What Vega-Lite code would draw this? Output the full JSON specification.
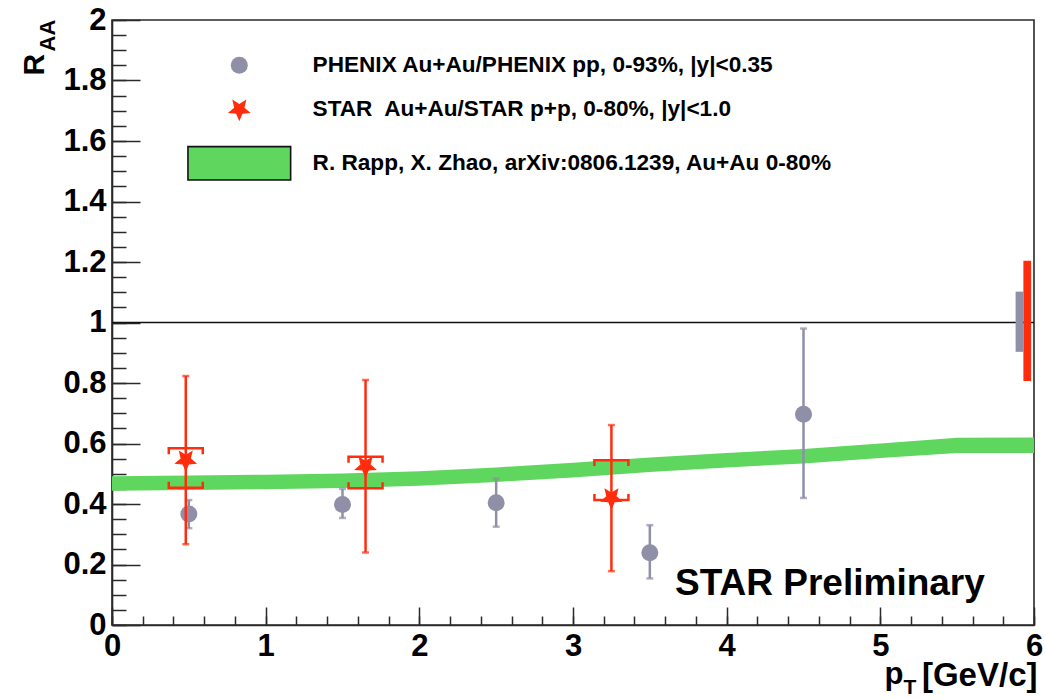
{
  "$schema": "https://vega.github.io/schema/vega-lite/v6.json",
  "width": 922,
  "height": 605,
  "autosize": {"type": "none"},
  "padding": {"left": 112, "top": 20, "right": 11, "bottom": 74},
  "background": "white",
  "config": {
    "font": "Liberation Sans",
    "view": {"stroke": "#2a2a2a", "strokeWidth": 1.6},
    "axis": {
      "grid": false,
      "domainColor": "#2a2a2a",
      "domainWidth": 1.6,
      "tickColor": "#2a2a2a",
      "tickWidth": 1.5,
      "labelColor": "#000000",
      "labelFont": "Liberation Sans",
      "labelFontWeight": "bold",
      "labelFontSize": 31,
      "labelOverlap": false,
      "labelFlush": false,
      "titleColor": "#000000",
      "titleFont": "Liberation Sans",
      "titleFontWeight": "bold"
    }
  },
  "datasets": {
    "phenix": [
      {"series": "PHENIX Au+Au/PHENIX pp, 0-93%, |y|<0.35", "pt": 0.5, "val": 0.367, "lo": 0.32, "hi": 0.413},
      {"series": "PHENIX Au+Au/PHENIX pp, 0-93%, |y|<0.35", "pt": 1.5, "val": 0.398, "lo": 0.354, "hi": 0.45},
      {"series": "PHENIX Au+Au/PHENIX pp, 0-93%, |y|<0.35", "pt": 2.5, "val": 0.404, "lo": 0.325, "hi": 0.484},
      {"series": "PHENIX Au+Au/PHENIX pp, 0-93%, |y|<0.35", "pt": 3.5, "val": 0.239, "lo": 0.154, "hi": 0.33},
      {"series": "PHENIX Au+Au/PHENIX pp, 0-93%, |y|<0.35", "pt": 4.5, "val": 0.697, "lo": 0.42, "hi": 0.98}
    ],
    "star": [
      {"series": "STAR\u00a0 Au+Au/STAR p+p, 0-80%, |y|<1.0", "pt": 0.48, "val": 0.545, "lo": 0.267, "hi": 0.823, "syslo": 0.454, "syshi": 0.584},
      {"series": "STAR\u00a0 Au+Au/STAR p+p, 0-80%, |y|<1.0", "pt": 1.65, "val": 0.525, "lo": 0.24, "hi": 0.81, "syslo": 0.452, "syshi": 0.556},
      {"series": "STAR\u00a0 Au+Au/STAR p+p, 0-80%, |y|<1.0", "pt": 3.25, "val": 0.42, "lo": 0.178, "hi": 0.661, "syslo": 0.413, "syshi": 0.545}
    ],
    "rapp": [
      {"pt": 0, "lo": 0.444, "hi": 0.492},
      {"pt": 0.5, "lo": 0.446, "hi": 0.494},
      {"pt": 1, "lo": 0.449, "hi": 0.497},
      {"pt": 1.5, "lo": 0.453, "hi": 0.501},
      {"pt": 2, "lo": 0.46, "hi": 0.508},
      {"pt": 2.5, "lo": 0.473, "hi": 0.521},
      {"pt": 3, "lo": 0.488, "hi": 0.536},
      {"pt": 3.5, "lo": 0.506, "hi": 0.554},
      {"pt": 4, "lo": 0.521, "hi": 0.569},
      {"pt": 4.5, "lo": 0.534, "hi": 0.582},
      {"pt": 5, "lo": 0.552, "hi": 0.6},
      {"pt": 5.5, "lo": 0.569, "hi": 0.619},
      {"pt": 6, "lo": 0.569, "hi": 0.62}
    ],
    "phenixNorm": [{"pt": 5.905, "lo": 0.903, "hi": 1.102}],
    "starNorm": [{"pt": 5.956, "lo": 0.807, "hi": 1.204}],
    "unity": [{"ref": 1}],
    "note": [{"label": "STAR Preliminary"}]
  },
  "resolve": {"axis": {"x": "independent", "y": "independent"}},
  "layer": [
    {
      "data": {"name": "rapp"},
      "mark": {"type": "area", "color": "#5fd75f", "interpolate": "linear", "opacity": 1},
      "encoding": {
        "x": {
          "field": "pt", "type": "quantitative",
          "scale": {"domain": [0, 6], "nice": false, "zero": false},
          "axis": {
            "orient": "bottom",
            "values": [0, 1, 2, 3, 4, 5, 6],
            "format": "~g",
            "tickSize": -18,
            "labelPadding": 24,
            "labelBaseline": "top",
            "labelAlign": "center",
            "title": "p",
            "titleFontSize": 31,
            "titleX": 772,
            "titleY": 58,
            "titleAlign": "left",
            "titleBaseline": "alphabetic",
            "titleAngle": 0
          }
        },
        "y": {
          "field": "lo", "type": "quantitative",
          "scale": {"domain": [0, 2], "nice": false, "zero": false},
          "axis": {
            "orient": "left",
            "values": [0, 0.2, 0.4, 0.6, 0.8, 1, 1.2, 1.4, 1.6, 1.8, 2],
            "format": "~g",
            "tickSize": -28,
            "labelPadding": 34,
            "labelAlign": "right",
            "labelBaseline": "middle",
            "title": "R",
            "titleFontSize": 30,
            "titleAngle": 270,
            "titleX": -69,
            "titleY": 55,
            "titleAlign": "left",
            "titleBaseline": "alphabetic"
          }
        },
        "y2": {"field": "hi"}
      }
    },
    {
      "data": {"name": "phenix"},
      "mark": {"type": "errorbar", "color": "#8f8fa8", "thickness": 2.5, "ticks": {"size": 7}},
      "encoding": {
        "x": {"field": "pt", "type": "quantitative", "scale": {"domain": [0, 6], "nice": false, "zero": false}, "axis": null},
        "y": {"field": "lo", "type": "quantitative", "scale": {"domain": [0, 2], "nice": false, "zero": false}, "axis": null},
        "y2": {"field": "hi"}
      }
    },
    {
      "data": {"name": "phenix"},
      "mark": {"type": "point", "filled": true, "size": 289, "opacity": 1, "strokeWidth": 0},
      "encoding": {
        "x": {
          "field": "pt", "type": "quantitative",
          "scale": {"domain": [0, 6], "nice": false, "zero": false},
          "axis": {
            "orient": "bottom",
            "values": [0, 0.2, 0.4, 0.6, 0.8, 1, 1.2, 1.4, 1.6, 1.8, 2, 2.2, 2.4, 2.6, 2.8, 3, 3.2, 3.4, 3.6, 3.8, 4, 4.2, 4.4, 4.6, 4.8, 5, 5.2, 5.4, 5.6, 5.8, 6],
            "labels": false,
            "domain": false,
            "tickSize": -9,
            "title": "T",
            "titleFontSize": 21,
            "titleX": 791,
            "titleY": 68,
            "titleAlign": "left",
            "titleBaseline": "alphabetic",
            "titleAngle": 0
          }
        },
        "y": {
          "field": "val", "type": "quantitative",
          "scale": {"domain": [0, 2], "nice": false, "zero": false},
          "axis": {
            "orient": "left",
            "values": [0, 0.05, 0.1, 0.15, 0.2, 0.25, 0.3, 0.35, 0.4, 0.45, 0.5, 0.55, 0.6, 0.65, 0.7, 0.75, 0.8, 0.85, 0.9, 0.95, 1, 1.05, 1.1, 1.15, 1.2, 1.25, 1.3, 1.35, 1.4, 1.45, 1.5, 1.55, 1.6, 1.65, 1.7, 1.75, 1.8, 1.85, 1.9, 1.95, 2],
            "labels": false,
            "domain": false,
            "tickSize": -14,
            "title": "AA",
            "titleFontSize": 22,
            "titleAngle": 270,
            "titleX": -58,
            "titleY": 31,
            "titleAlign": "left",
            "titleBaseline": "alphabetic"
          }
        },
        "color": {
          "field": "series", "type": "nominal",
          "scale": {
            "domain": ["PHENIX Au+Au/PHENIX pp, 0-93%, |y|<0.35", "STAR\u00a0 Au+Au/STAR p+p, 0-80%, |y|<1.0", "R. Rapp, X. Zhao, arXiv:0806.1239, Au+Au 0-80%"],
            "range": ["#8f8fa8", "#ff2d0e", "#5fd75f"]
          },
          "legend": {
            "orient": "none",
            "legendX": 116,
            "legendY": 34,
            "title": null,
            "direction": "vertical",
            "padding": 0,
            "labelFont": "Liberation Sans",
            "labelFontSize": 22.6,
            "labelFontWeight": "bold",
            "labelColor": "#000000",
            "labelLimit": 1000,
            "symbolSize": 289,
            "symbolOffset": 0,
            "labelOffset": 62,
            "rowPadding": 21,
            "symbolStrokeWidth": 0,
            "symbolOpacity": 1,
            "encode": {
              "symbols": {
                "update": {
                  "stroke": {"signal": "datum.index === 2 ? '#111111' : 'transparent'"},
                  "strokeWidth": {"signal": "datum.index === 2 ? 1.6 : 0"}
                }
              }
            }
          }
        },
        "shape": {
          "field": "series", "type": "nominal",
          "scale": {
            "domain": ["PHENIX Au+Au/PHENIX pp, 0-93%, |y|<0.35", "STAR\u00a0 Au+Au/STAR p+p, 0-80%, |y|<1.0", "R. Rapp, X. Zhao, arXiv:0806.1239, Au+Au 0-80%"],
            "range": [
              "circle",
              "M0,1.41L-0.373,0.513L-1.341,0.436L-0.603,-0.196L-0.829,-1.141L0,-0.635L0.829,-1.141L0.603,-0.196L1.341,0.436L0.373,0.513Z",
              "M-6.04,-1.96H6.04V1.96H-6.04Z"
            ]
          }
        }
      }
    },
    {
      "data": {"name": "star"},
      "mark": {"type": "errorbar", "color": "#ff2d0e", "thickness": 2.5, "ticks": {"size": 7}},
      "encoding": {
        "x": {"field": "pt", "type": "quantitative", "scale": {"domain": [0, 6], "nice": false, "zero": false}, "axis": null},
        "y": {"field": "lo", "type": "quantitative", "scale": {"domain": [0, 2], "nice": false, "zero": false}, "axis": null},
        "y2": {"field": "hi"}
      }
    },
    {
      "data": {"name": "star"},
      "mark": {"type": "point", "shape": "M-1,0.35V0H1V0.35", "filled": false, "size": 1156, "color": "#ff2d0e", "strokeWidth": 2.5, "opacity": 1},
      "encoding": {
        "x": {"field": "pt", "type": "quantitative", "scale": {"domain": [0, 6], "nice": false, "zero": false}, "axis": null},
        "y": {"field": "syshi", "type": "quantitative", "scale": {"domain": [0, 2], "nice": false, "zero": false}, "axis": null}
      }
    },
    {
      "data": {"name": "star"},
      "mark": {"type": "point", "shape": "M-1,-0.35V0H1V-0.35", "filled": false, "size": 1156, "color": "#ff2d0e", "strokeWidth": 2.5, "opacity": 1},
      "encoding": {
        "x": {"field": "pt", "type": "quantitative", "scale": {"domain": [0, 6], "nice": false, "zero": false}, "axis": null},
        "y": {"field": "syslo", "type": "quantitative", "scale": {"domain": [0, 2], "nice": false, "zero": false}, "axis": null}
      }
    },
    {
      "data": {"name": "star"},
      "mark": {"type": "point", "filled": true, "size": 289, "opacity": 1, "strokeWidth": 0},
      "encoding": {
        "x": {
          "field": "pt", "type": "quantitative",
          "scale": {"domain": [0, 6], "nice": false, "zero": false},
          "axis": {
            "orient": "bottom",
            "labels": false,
            "ticks": false,
            "domain": false,
            "title": "[GeV/c]",
            "titleFontSize": 33,
            "titleX": 925,
            "titleY": 60,
            "titleAlign": "right",
            "titleBaseline": "alphabetic",
            "titleAngle": 0
          }
        },
        "y": {"field": "val", "type": "quantitative", "scale": {"domain": [0, 2], "nice": false, "zero": false}, "axis": null},
        "color": {"field": "series", "type": "nominal"},
        "shape": {"field": "series", "type": "nominal"}
      }
    },
    {
      "data": {"name": "unity"},
      "mark": {"type": "rule", "color": "#111111", "strokeWidth": 1.5},
      "encoding": {
        "y": {"field": "ref", "type": "quantitative", "scale": {"domain": [0, 2], "nice": false, "zero": false}, "axis": null}
      }
    },
    {
      "data": {"name": "phenixNorm"},
      "mark": {"type": "rule", "color": "#8f8fa8", "strokeWidth": 7.6},
      "encoding": {
        "x": {"field": "pt", "type": "quantitative", "scale": {"domain": [0, 6], "nice": false, "zero": false}, "axis": null},
        "y": {"field": "lo", "type": "quantitative", "scale": {"domain": [0, 2], "nice": false, "zero": false}, "axis": null},
        "y2": {"field": "hi"}
      }
    },
    {
      "data": {"name": "starNorm"},
      "mark": {"type": "rule", "color": "#ff2d0e", "strokeWidth": 7.7},
      "encoding": {
        "x": {"field": "pt", "type": "quantitative", "scale": {"domain": [0, 6], "nice": false, "zero": false}, "axis": null},
        "y": {"field": "lo", "type": "quantitative", "scale": {"domain": [0, 2], "nice": false, "zero": false}, "axis": null},
        "y2": {"field": "hi"}
      }
    },
    {
      "data": {"name": "note"},
      "mark": {"type": "text", "font": "Liberation Sans", "fontSize": 37, "fontWeight": "bold", "color": "#000000", "align": "left", "baseline": "alphabetic"},
      "encoding": {
        "text": {"field": "label", "type": "nominal"},
        "x": {"datum": 3.664, "type": "quantitative", "scale": {"domain": [0, 6], "nice": false, "zero": false}, "axis": null},
        "y": {"datum": 0.099, "type": "quantitative", "scale": {"domain": [0, 2], "nice": false, "zero": false}, "axis": null}
      }
    }
  ]
}
